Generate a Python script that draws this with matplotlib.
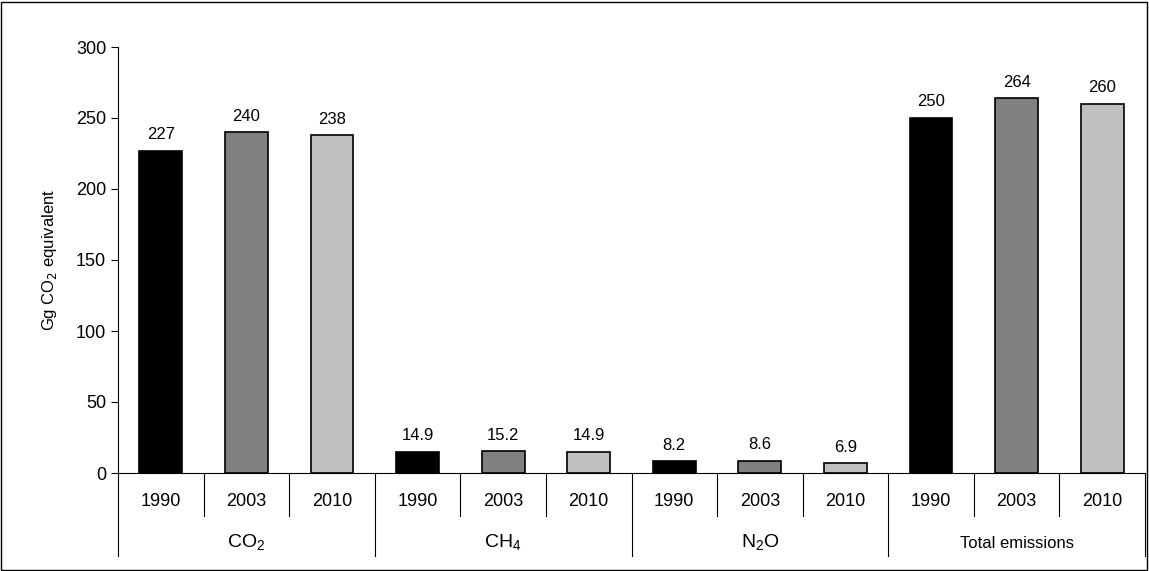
import matplotlib.pyplot as plt
from matplotlib.patches import Rectangle

gases = ["CO$_2$", "CH$_4$", "N$_2$O", "Total emissions"]
years = ["1990", "2003", "2010"]
values = [[227, 240, 238], [14.9, 15.2, 14.9], [8.2, 8.6, 6.9], [250, 264, 260]]
labels = [["227", "240", "238"], ["14.9", "15.2", "14.9"], ["8.2", "8.6", "6.9"], ["250", "264", "260"]]
colors = ["#000000", "#808080", "#c0c0c0"]

W, H = 1149, 571
fig = plt.figure(figsize=(W / 100, H / 100), dpi=100)
fig.patches.append(Rectangle((1 / W, 1 / H), 1 - 3 / W, 1 - 3 / H, transform=fig.transFigure,
                             fill=False, edgecolor="black", lw=1))
ax = fig.add_axes([118 / W, (H - 473) / H, 1027 / W, 426 / H])
plt.rcParams['font.family'] = 'Liberation Sans'
plt.rcParams['mathtext.fontset'] = 'custom'
plt.rcParams['mathtext.rm'] = 'Liberation Sans'

for g in range(len(gases)):
    for k in range(len(years)):
        x = g * 3 + k + 0.5
        v = values[g][k]
        ax.bar(x, v, width=0.5, color=colors[k], edgecolor="black", lw=1.2)
        ax.text(x, v + 6, labels[g][k], ha="center", va="bottom", fontsize=12, family="Liberation Sans")

ax.set_xlim(0, 12)
ax.set_ylim(0, 300)
ax.set_yticks(range(0, 301, 50))
ax.tick_params(axis="y", labelsize=13, direction="out", length=5)
for t in ax.get_yticklabels():
    t.set_family("Liberation Sans")
ax.set_xticks([])
ax.spines["top"].set_visible(False)
ax.spines["right"].set_visible(False)
ax.set_ylabel("Gg CO$_2$ equivalent", fontsize=12, family="Liberation Sans", labelpad=12)

tr = ax.get_xaxis_transform()
ax_h = 426
for i in range(13):
    low = -83 / ax_h if i % 3 == 0 else -43 / ax_h
    ax.plot([i, i], [0, low], transform=tr, color="black", lw=0.8, clip_on=False)
for g in range(len(gases)):
    for k in range(len(years)):
        ax.text(g * 3 + k + 0.5, -29 / ax_h, years[k], transform=tr, ha="center", va="center",
                fontsize=13, family="Liberation Sans")
    ax.text(g * 3 + 1.5, -70 / ax_h, gases[g], transform=tr, ha="center", va="center",
            fontsize=14 if g < 3 else 12, family="Liberation Sans")

fig.savefig("out.png", dpi=100)
